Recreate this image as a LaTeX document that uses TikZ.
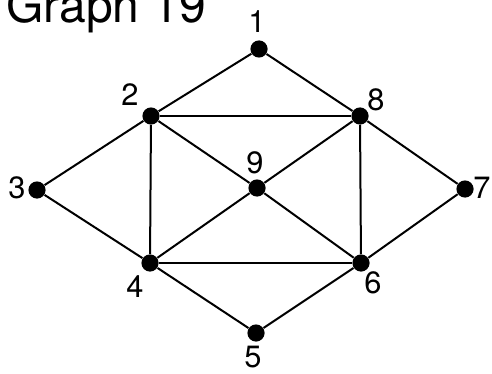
\documentclass[tikz,border=0pt]{standalone}
\usepackage{fontspec}
\setmainfont{TeX Gyre Heros}

\begin{document}
\begin{tikzpicture}[x=0.5pt,y=-0.5pt,
      vtx/.style={circle,fill=black,inner sep=0pt,minimum size=8.6pt},
      num/.style={font=\fontsize{15.4}{17}\selectfont,inner sep=0pt},
      edge/.style={line width=1pt}]
    \useasboundingbox (0,0) rectangle (492,374);
    \node[anchor=base west,inner sep=0pt,font=\fontsize{24}{28}\selectfont] (title) at (6,23) {Graph 19};
    % vertices and their numbers
    \foreach \n/\x/\y/\lx/\ly in {1/259/49/257/22, 2/151/116/130/95, 3/37/190/17/188,
        4/150/263/135/287, 5/256/333/253/357, 6/361/263/373/283,
        7/465/189/482/188, 8/360/116/376/100, 9/257/188/255/163}{
      \node[vtx] (v\n) at (\x,\y) {};
      \node[num] (t\n) at (\lx,\ly) {\n};
    }
    \foreach \a/\b in {1/2,1/8,2/8,2/3,2/4,2/9,3/4,8/9,8/6,8/7,9/4,9/6,4/6,4/5,5/6,6/7}
      \draw[edge] (v\a) -- (v\b);
  \end{tikzpicture}
\end{document}
